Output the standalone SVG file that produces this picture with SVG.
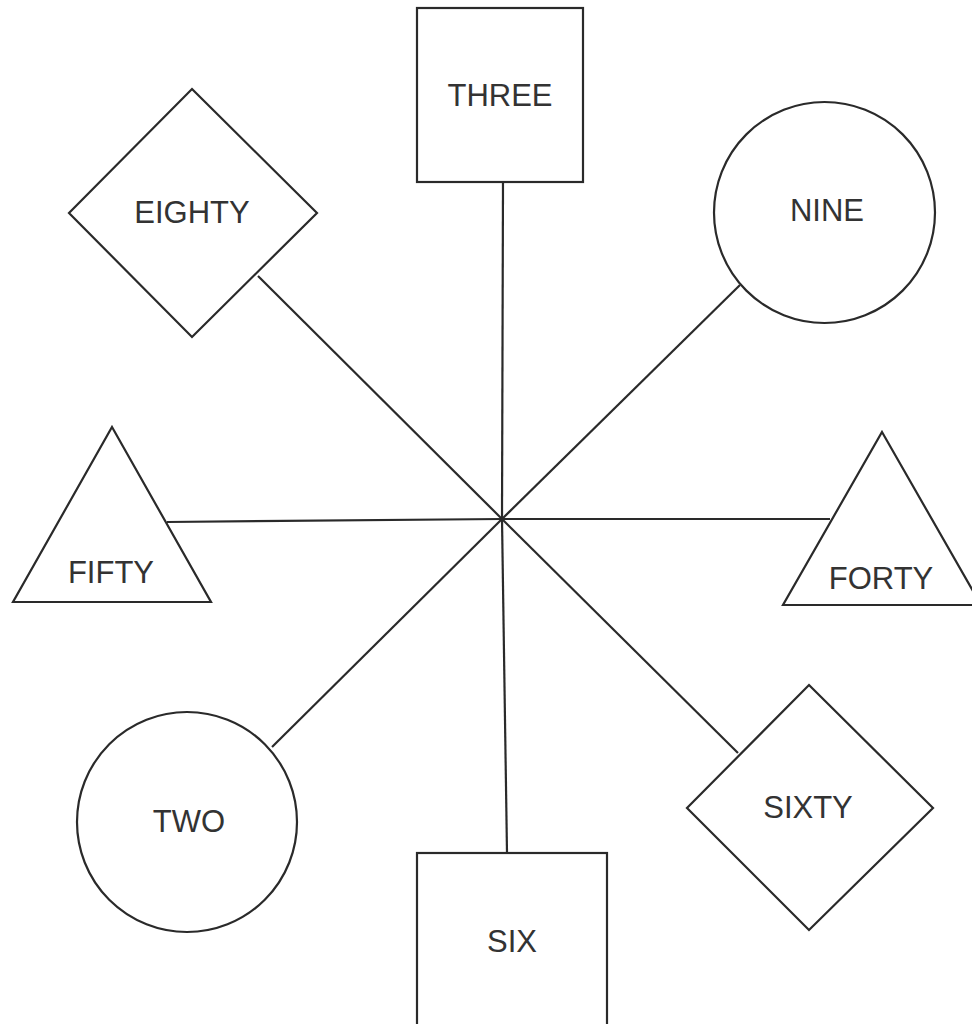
<svg xmlns="http://www.w3.org/2000/svg" width="972" height="1024" viewBox="0 0 972 1024">
<style>
.s{fill:#fff;stroke:#2a2a2a;stroke-width:2.2}
.c{stroke:#2a2a2a;stroke-width:2.2;fill:none}
.t{font-family:"Liberation Sans",Arial,sans-serif;font-size:31px;fill:#333;text-anchor:middle}
</style>
<rect width="972" height="1024" fill="#fff"/>
<g id="connectors">
<line class="c" x1="502" y1="519" x2="503" y2="182"/>
<line class="c" x1="502" y1="519" x2="258" y2="276"/>
<line class="c" x1="502" y1="519" x2="740" y2="285"/>
<line class="c" x1="502" y1="519" x2="167" y2="522"/>
<line class="c" x1="502" y1="519" x2="830" y2="519"/>
<line class="c" x1="502" y1="519" x2="272" y2="747"/>
<line class="c" x1="502" y1="519" x2="507" y2="853"/>
<line class="c" x1="502" y1="519" x2="738" y2="753"/>
</g>
<g id="three">
<rect class="s" x="417" y="8" width="166" height="174"/>
<text class="t" x="500" y="106">THREE</text>
</g>
<g id="eighty">
<polygon class="s" points="192,89 317,213 192,337 69,213"/>
<text class="t" x="192" y="223">EIGHTY</text>
</g>
<g id="nine">
<circle class="s" cx="824.5" cy="212.5" r="110.5"/>
<text class="t" x="827" y="221">NINE</text>
</g>
<g id="fifty">
<polygon class="s" points="112,427 211,602 13,602"/>
<text class="t" x="111" y="583">FIFTY</text>
</g>
<g id="forty">
<polygon class="s" points="882,432 981,605 783,605"/>
<text class="t" x="881" y="589">FORTY</text>
</g>
<g id="two">
<circle class="s" cx="187" cy="822" r="110"/>
<text class="t" x="189" y="832">TWO</text>
</g>
<g id="six">
<rect class="s" x="417" y="853" width="190" height="180"/>
<text class="t" x="512" y="952">SIX</text>
</g>
<g id="sixty">
<polygon class="s" points="809,685 933,808 809,930 687,808"/>
<text class="t" x="808" y="818">SIXTY</text>
</g>
</svg>
